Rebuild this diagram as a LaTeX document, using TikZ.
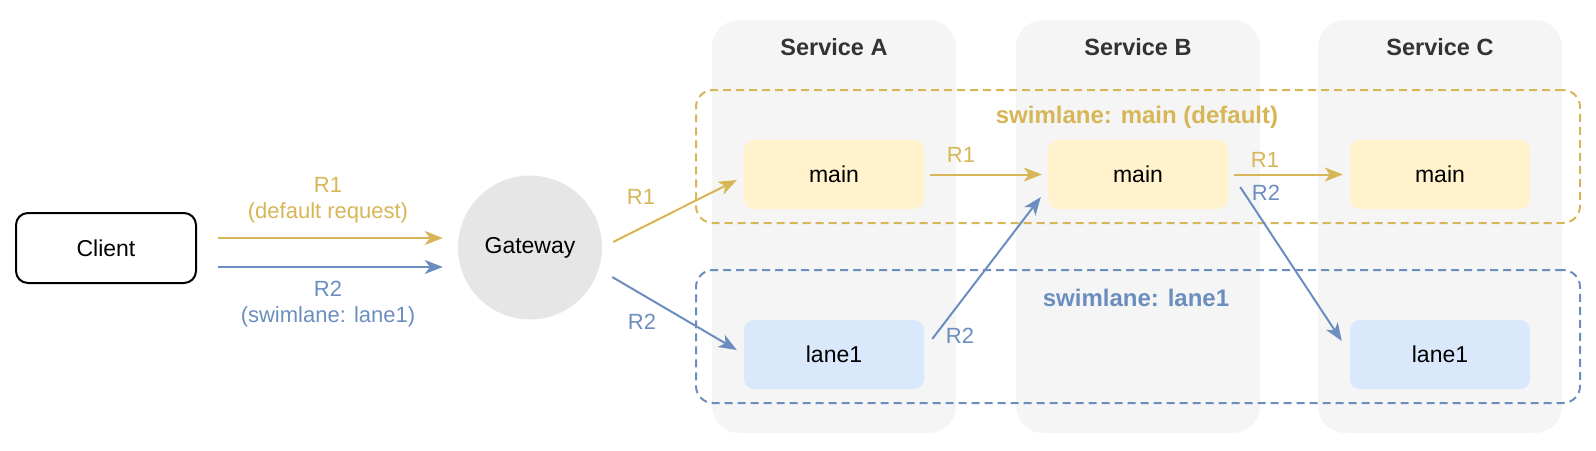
\documentclass[tikz,border=0pt]{standalone}
\usepackage{fontspec}
\setmainfont{Liberation Sans}
\usetikzlibrary{arrows.meta}
\definecolor{ylw}{HTML}{D6B656}
\definecolor{blu}{HTML}{6C8EBF}
\definecolor{ylwfill}{HTML}{FFF2CC}
\definecolor{blufill}{HTML}{DAE8FC}
\definecolor{colfill}{HTML}{F5F5F5}
\definecolor{gwfill}{HTML}{E6E6E6}
\definecolor{ttl}{HTML}{333333}
\tikzset{
  col/.style={fill=colfill, draw=none, rounded corners=27pt, minimum width=244pt, minimum height=413pt, inner sep=0pt},
  coltitle/.style={font=\fontsize{23.5}{28}\selectfont\bfseries, text=ttl},
  lanebox/.style={draw=#1, line width=2pt, dash pattern=on 8pt off 5pt, rounded corners=17pt, minimum width=884pt, minimum height=133pt, inner sep=0pt},
  lanelabel/.style={font=\fontsize{24}{28}\selectfont\bfseries, text=#1},
  svc/.style={fill=#1, draw=none, rounded corners=10pt, minimum width=180pt, minimum height=69pt, inner sep=0pt, font=\fontsize{23}{28}\selectfont},
  conn/.style={draw=#1, line width=2pt, -{Stealth[length=18pt,width=14pt,inset=5pt]}},
  elabel/.style={font=\fontsize{22}{26}\selectfont, text=#1, align=center},
}
\begin{document}
\begin{tikzpicture}[x=1pt,y=-1pt]
\useasboundingbox (0,0) rectangle (1596,450);
% service columns
\node[col] (colA) at (834,226.5) {};
\node[col] (colB) at (1138,226.5) {};
\node[col] (colC) at (1440,226.5) {};
\node[coltitle] (tA) at (834,47) {Service A};
\node[coltitle] (tB) at (1138,47) {Service B};
\node[coltitle] (tC) at (1440,47) {Service C};
% swimlanes
\node[lanebox=ylw] (laneMain) at (1138,156.5) {};
\node[lanebox=blu] (laneOne) at (1138,336.5) {};
\node[lanelabel=ylw] (lmain) at (1137,117) {swimlane: main (default)};
\node[lanelabel=blu] (lone) at (1136,298) {swimlane: lane1};
% boxes
\node[svc=ylwfill] (mainA) at (834,174.5) {main};
\node[svc=ylwfill] (mainB) at (1138,174.5) {main};
\node[svc=ylwfill] (mainC) at (1440,174.5) {main};
\node[svc=blufill] (laneA) at (834,354.5) {lane1};
\node[svc=blufill] (laneC) at (1440,354.5) {lane1};
% client and gateway
\node[draw=black, line width=2pt, rounded corners=12pt, minimum width=180pt, minimum height=70pt, inner sep=0pt, font=\fontsize{23}{28}\selectfont] (client) at (106,248) {Client};
\node[circle, fill=gwfill, draw=none, minimum size=144pt, inner sep=0pt, font=\fontsize{23}{28}\selectfont] (gw) at (530,247.5) {Gateway};
% connectors
\draw[conn=ylw] ([xshift=21pt,yshift=10pt]client.east) -- ([xshift=-15pt,yshift=9.5pt]gw.west);
\draw[conn=blu] ([xshift=21pt,yshift=-19pt]client.east) -- ([xshift=-15pt,yshift=-19.5pt]gw.west);
\draw[conn=ylw] ([xshift=11pt,yshift=5.5pt]gw.east) -- ([xshift=-7pt,yshift=-5.5pt]mainA.west);
\draw[conn=blu] ([xshift=10pt,yshift=-29.5pt]gw.east) -- ([xshift=-7pt,yshift=4.5pt]laneA.west);
\draw[conn=ylw] ([xshift=6pt]mainA.east) -- ([xshift=-6pt]mainB.west);
\draw[conn=ylw] ([xshift=6pt]mainB.east) -- ([xshift=-7pt]mainC.west);
\draw[conn=blu] ([xshift=8pt,yshift=15.5pt]laneA.east) -- ([xshift=-7pt,yshift=-22.5pt]mainB.west);
\draw[conn=blu] ([xshift=12pt,yshift=-12.5pt]mainB.east) -- ([xshift=-8pt,yshift=13.5pt]laneC.west);
% edge labels
\node[elabel=ylw] (l1) at (328,200) {R1\\(default request)};
\node[elabel=blu] (l2) at (328,304) {R2\\(swimlane: lane1)};
\node[elabel=ylw] (l3) at (641,197) {R1};
\node[elabel=blu] (l4) at (642,322) {R2};
\node[elabel=ylw] (l5) at (961,155) {R1};
\node[elabel=ylw] (l6) at (1265,160) {R1};
\node[elabel=blu] (l7) at (1266,193) {R2};
\node[elabel=blu] (l8) at (960,336) {R2};
\end{tikzpicture}
\end{document}
